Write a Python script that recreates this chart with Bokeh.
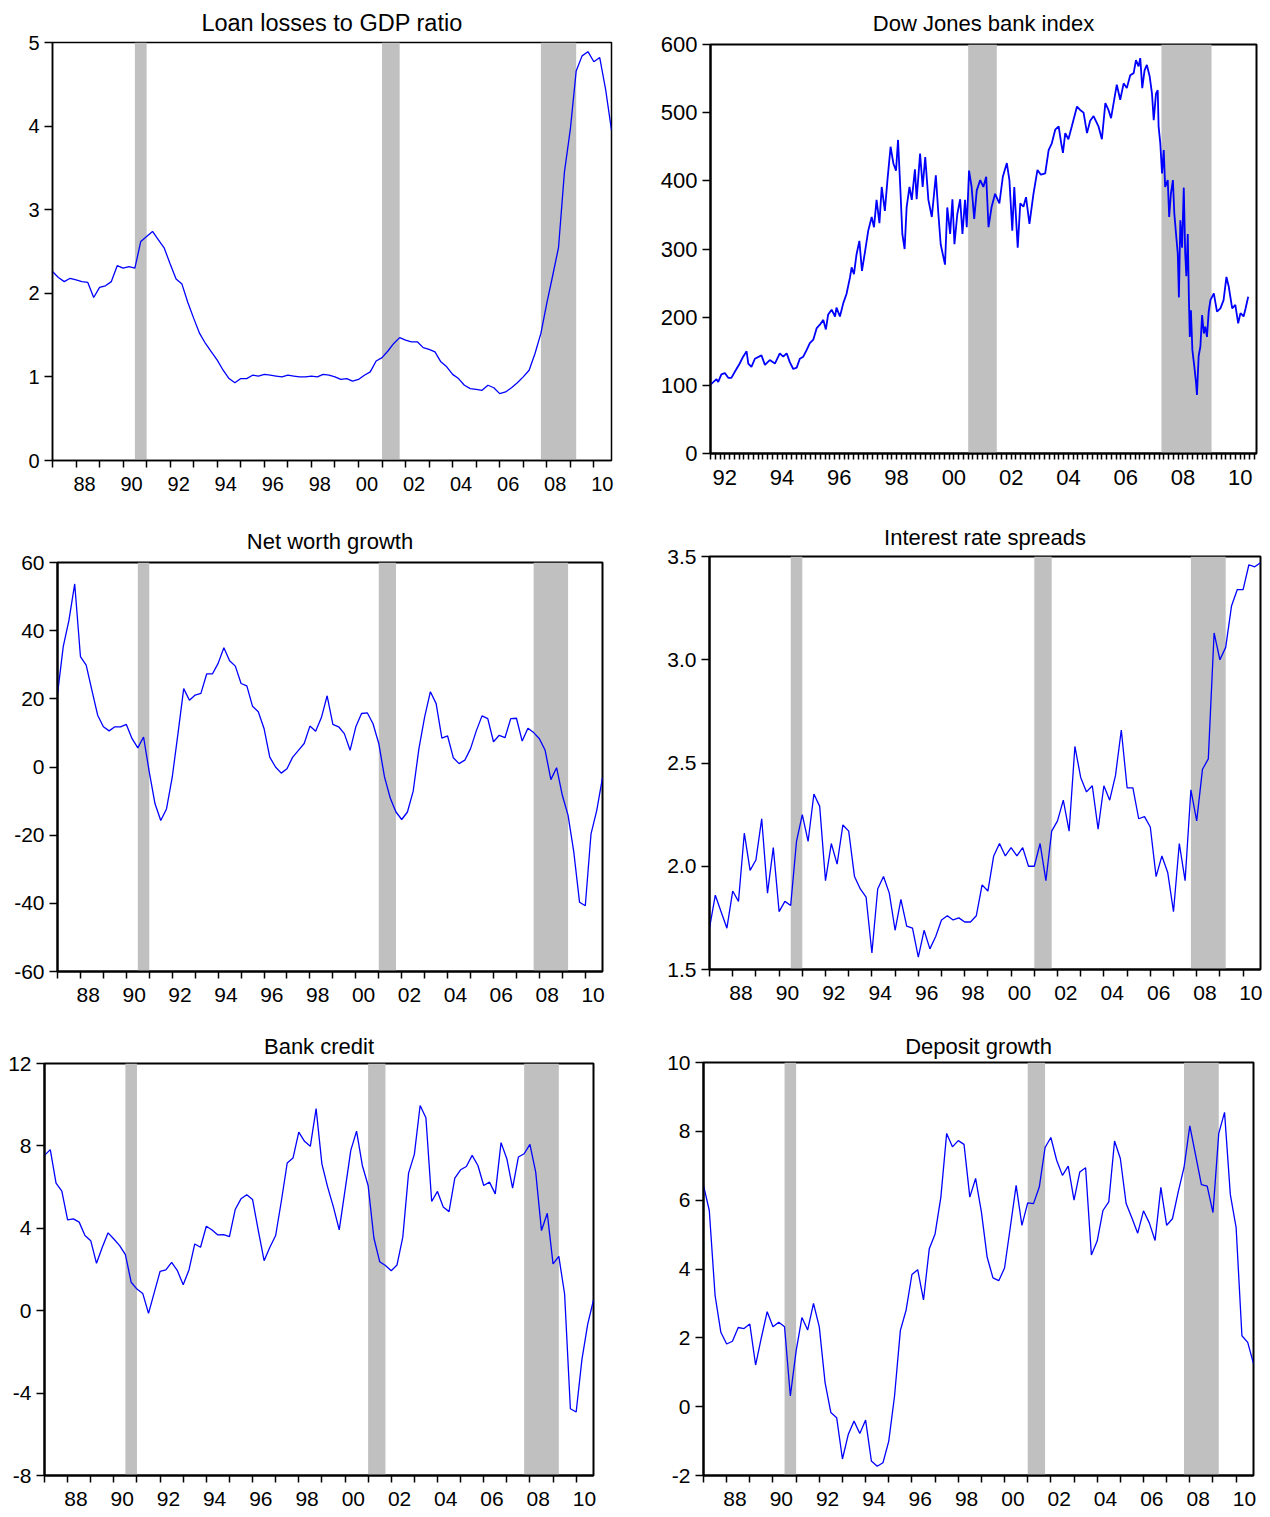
from bokeh.plotting import figure
from bokeh.layouts import column, row
from bokeh.models import Range1d, FixedTicker, CustomJSTickFormatter, BoxAnnotation
from bokeh.embed import file_html
from bokeh.resources import INLINE

# ---------------- data ----------------
start_year = 1987  # quarterly data 1987Q1 .. 2010Q4

loan_losses = [2.26, 2.19, 2.14, 2.18, 2.16, 2.14, 2.13, 1.95, 2.07, 2.09, 2.14, 2.33, 2.30, 2.32, 2.30, 2.62,
               2.68, 2.74, 2.64, 2.54, 2.35, 2.17, 2.11, 1.89, 1.70, 1.52, 1.40, 1.30, 1.20, 1.08, 0.98, 0.93,
               0.98, 0.98, 1.02, 1.01, 1.03, 1.02, 1.01, 1.00, 1.02, 1.01, 1.00, 1.00, 1.01, 1.00, 1.03, 1.02,
               1.00, 0.97, 0.98, 0.95, 0.97, 1.02, 1.06, 1.19, 1.23, 1.31, 1.40, 1.47, 1.44, 1.42, 1.42, 1.35,
               1.33, 1.30, 1.18, 1.12, 1.03, 0.98, 0.90, 0.86, 0.85, 0.84, 0.90, 0.87, 0.80, 0.82, 0.87, 0.93,
               1.00, 1.08, 1.28, 1.52, 1.88, 2.21, 2.55, 3.45, 3.96, 4.66, 4.84, 4.89, 4.77, 4.82, 4.44, 3.95]

net_worth = [21.4, 35.3, 43.1, 53.7, 32.4, 29.9, 22.5, 15.2, 11.8, 10.6, 11.8, 11.8, 12.5, 8.3, 5.6, 8.8,
             -1.5, -10.8, -15.7, -12.3, -3.0, 9.8, 23.0, 19.6, 21.1, 21.6, 27.3, 27.3, 30.4, 35.0, 31.2, 29.6,
             24.5, 23.8, 17.8, 16.2, 11.3, 2.9, 0.0, -1.8, -0.5, 2.9, 4.9, 6.9, 12.0, 10.5, 14.5, 20.9,
             12.5, 11.8, 9.8, 4.9, 11.8, 15.7, 15.9, 12.7, 6.9, -2.9, -9.1, -13.2, -15.4, -13.2, -7.1, 5.4,
             14.7, 22.1, 18.6, 8.5, 9.1, 2.7, 1.0, 2.0, 5.4, 10.6, 15.0, 14.2, 7.4, 9.3, 8.6, 14.2,
             14.3, 7.6, 11.4, 10.1, 8.3, 4.9, -3.7, -0.2, -8.3, -14.2, -25.0, -39.7, -40.7, -19.6, -12.7, -3.1]

rate_spreads = [1.70, 1.86, 1.78, 1.70, 1.88, 1.83, 2.16, 1.98, 2.03, 2.23, 1.87, 2.09, 1.78, 1.83, 1.81, 2.12,
                2.25, 2.12, 2.35, 2.29, 1.93, 2.11, 2.01, 2.20, 2.17, 1.95, 1.89, 1.85, 1.58, 1.89, 1.95, 1.87,
                1.69, 1.84, 1.71, 1.70, 1.56, 1.69, 1.60, 1.66, 1.74, 1.76, 1.74, 1.75, 1.73, 1.73, 1.76, 1.91,
                1.88, 2.05, 2.11, 2.05, 2.09, 2.05, 2.09, 2.00, 2.00, 2.11, 1.93, 2.17, 2.22, 2.32, 2.17, 2.58,
                2.43, 2.36, 2.39, 2.18, 2.39, 2.32, 2.44, 2.66, 2.38, 2.38, 2.23, 2.24, 2.19, 1.95, 2.05, 1.97,
                1.78, 2.11, 1.93, 2.37, 2.22, 2.47, 2.52, 3.13, 3.00, 3.06, 3.26, 3.34, 3.34, 3.46, 3.45, 3.47]

bank_credit = [7.54, 7.82, 6.19, 5.80, 4.41, 4.46, 4.30, 3.65, 3.40, 2.30, 3.08, 3.78, 3.48, 3.16, 2.72, 1.38,
               1.05, 0.84, -0.13, 0.89, 1.91, 1.98, 2.35, 1.94, 1.26, 1.98, 3.24, 3.08, 4.10, 3.92, 3.68, 3.69,
               3.60, 4.91, 5.43, 5.63, 5.40, 3.89, 2.43, 3.08, 3.65, 5.35, 7.17, 7.41, 8.67, 8.22, 7.98, 9.81,
               7.13, 6.00, 5.03, 3.92, 5.84, 7.78, 8.72, 7.05, 6.08, 3.53, 2.38, 2.19, 1.94, 2.22, 3.57, 6.68,
               7.59, 9.96, 9.37, 5.30, 5.79, 5.03, 4.81, 6.44, 6.84, 7.00, 7.54, 7.05, 6.08, 6.24, 5.67, 8.16,
               7.38, 5.95, 7.46, 7.62, 8.07, 6.73, 3.89, 4.73, 2.27, 2.64, 0.81, -4.76, -4.92, -2.36, -0.65, 0.52]

deposit_growth = [6.43, 5.70, 3.23, 2.16, 1.82, 1.90, 2.30, 2.27, 2.40, 1.21, 2.01, 2.76, 2.32, 2.45, 2.32, 0.31,
                  1.62, 2.59, 2.23, 3.00, 2.32, 0.70, -0.17, -0.32, -1.52, -0.81, -0.42, -0.78, -0.39, -1.58, -1.73, -1.63,
                  -1.00, 0.31, 2.21, 2.81, 3.84, 3.98, 3.10, 4.59, 5.02, 6.09, 7.94, 7.55, 7.73, 7.62, 6.09, 6.63,
                  5.66, 4.34, 3.74, 3.66, 4.03, 5.22, 6.43, 5.27, 5.92, 5.90, 6.38, 7.53, 7.82, 7.16, 6.72, 6.99,
                  6.00, 6.82, 6.94, 4.41, 4.81, 5.70, 5.95, 7.72, 7.21, 5.90, 5.48, 5.04, 5.69, 5.34, 4.83, 6.37,
                  5.27, 5.46, 6.24, 6.95, 8.16, 7.31, 6.45, 6.41, 5.64, 7.94, 8.55, 6.16, 5.20, 2.06, 1.87, 1.25]

# Dow Jones US bank index (dates as decimal years)
dj_date = [1992.00, 1992.21, 1992.27, 1992.38, 1992.50, 1992.62, 1992.73, 1992.85,
           1993.02, 1993.14, 1993.26, 1993.32, 1993.43, 1993.55, 1993.78, 1993.90,
           1994.07, 1994.25, 1994.42, 1994.54, 1994.66, 1994.77, 1994.89,
           1995.01, 1995.12, 1995.24, 1995.36, 1995.47, 1995.59, 1995.71, 1995.82, 1995.94,
           1996.03, 1996.11, 1996.23, 1996.35, 1996.40, 1996.52, 1996.64, 1996.75, 1996.87, 1996.93,
           1997.01, 1997.10, 1997.20, 1997.29, 1997.40, 1997.51, 1997.63, 1997.71, 1997.80, 1997.90, 1997.98,
           1998.09, 1998.18, 1998.29, 1998.39, 1998.48, 1998.55, 1998.64, 1998.70, 1998.78, 1998.85, 1998.95,
           1999.03, 1999.14, 1999.20, 1999.32, 1999.41, 1999.50, 1999.61, 1999.73, 1999.87, 1999.96,
           2000.04, 2000.19, 2000.27, 2000.37, 2000.45, 2000.52, 2000.62, 2000.72, 2000.80, 2000.89, 2000.95, 2001.03,
           2001.12, 2001.21, 2001.30, 2001.42, 2001.53, 2001.63, 2001.71, 2001.82, 2001.94,
           2002.09, 2002.21, 2002.35, 2002.44, 2002.54, 2002.61, 2002.73, 2002.82, 2002.93,
           2003.02, 2003.14, 2003.28, 2003.42, 2003.54, 2003.69, 2003.81, 2003.92,
           2004.04, 2004.16, 2004.25, 2004.31, 2004.39, 2004.50, 2004.62, 2004.80, 2004.91,
           2005.03, 2005.15, 2005.26, 2005.38, 2005.55, 2005.67, 2005.79, 2005.90, 2005.99,
           2006.10, 2006.19, 2006.31, 2006.43, 2006.54, 2006.66, 2006.78, 2006.86, 2006.95,
           2007.01, 2007.08, 2007.16, 2007.24, 2007.34, 2007.42, 2007.48, 2007.56, 2007.62, 2007.65,
           2007.71, 2007.77, 2007.83, 2007.88, 2007.97, 2008.02, 2008.08, 2008.15, 2008.20, 2008.26,
           2008.32, 2008.36, 2008.41, 2008.47, 2008.53, 2008.58, 2008.62, 2008.67, 2008.71, 2008.74,
           2008.78, 2008.83, 2008.90, 2008.96, 2008.99, 2009.05, 2009.11, 2009.17, 2009.23, 2009.28,
           2009.34, 2009.40, 2009.46, 2009.58, 2009.69, 2009.81, 2009.92, 2010.02, 2010.10, 2010.22,
           2010.33, 2010.43, 2010.51, 2010.62, 2010.69, 2010.78]
dj_index = [101, 109, 105, 116, 118, 111, 111, 120,
            132, 142, 150, 132, 127, 139, 144, 130,
            137, 132, 147, 142, 147, 134, 124,
            126, 139, 142, 152, 162, 167, 184, 189, 196,
            182, 204, 211, 201, 214, 201, 221, 234, 258, 273,
            263, 292, 312, 268, 297, 327, 347, 332, 372, 338, 391,
            356, 401, 450, 425, 415, 460, 380, 322, 300, 361, 391,
            372, 417, 373, 440, 391, 435, 372, 347, 408, 351,
            307, 277, 361, 322, 373, 307, 351, 373, 322, 372, 332, 415,
            391, 344, 386, 401, 391, 406, 332, 362, 381,
            367, 406, 426, 401, 327, 391, 302, 367, 362,
            376, 337, 381, 416, 409, 411, 445, 455,
            475, 480, 455, 441, 470, 461, 480, 509, 504,
            500, 470, 488, 495, 480, 461, 514, 504, 492,
            519, 541, 519, 543, 536, 555, 558, 577, 568,
            580, 536, 562, 570, 553, 528, 489, 528, 533, 480,
            455, 411, 445, 391, 401, 347, 381, 401, 352, 322,
            293, 229, 342, 302, 390, 293, 260, 322, 225, 171,
            210, 152, 127, 103, 86, 143, 157, 203, 176, 186,
            171, 208, 225, 235, 208, 213, 225, 259, 245, 213,
            218, 191, 206, 201, 213, 230]

# recession bands (decimal years)
recessions_quarterly = [(1990.5, 1991.0), (2001.0, 2001.75), (2007.75, 2009.25)]
recessions_dj = [(2001.0, 2002.0), (2007.75, 2009.5)]

titles = ["Loan losses to GDP ratio", "Dow Jones bank index", "Net worth growth",
          "Interest rate spreads", "Bank credit", "Deposit growth"]

y_ticks_loan = [0, 1, 2, 3, 4, 5]
y_ticks_dj = [0, 100, 200, 300, 400, 500, 600]
y_ticks_nw = [-60, -40, -20, 0, 20, 40, 60]
y_ticks_spread = [1.5, 2.0, 2.5, 3.0, 3.5]
y_ticks_credit = [-8, -4, 0, 4, 8, 12]
y_ticks_deposit = [-2, 0, 2, 4, 6, 8, 10]

quarter_dates = [start_year + k / 4 for k in range(len(loan_losses))]

# ---------------- styling ----------------
FONT = "Liberation Sans"
BLUE = "#0000ff"
SHADE = "#c0c0c0"


def make_panel(title, xs, ys, xr, yr, yticks, ydec, recs, label_years, label_off, minor,
               width, height, bl, br, bt, bb, title_size, tick_size, frame_w, line_w, title_standoff,
               tick_len=7, x_standoff=9):
    p = figure(width=width, height=height, x_range=Range1d(*xr), y_range=Range1d(*yr),
               output_backend="svg", toolbar_location=None,
               min_border_left=bl, min_border_right=br, min_border_top=bt, min_border_bottom=bb)
    p.title.text = title
    p.title.align = "center"
    p.title.text_font = FONT
    p.title.text_font_style = "normal"
    p.title.text_font_size = title_size
    p.title.text_color = "black"
    p.title.standoff = title_standoff

    for a, b in recs:
        p.add_layout(BoxAnnotation(left=a, right=b, fill_color=SHADE, fill_alpha=1.0,
                                   line_color=None, level="underlay"))
    p.line(xs, ys, line_color=BLUE, line_width=line_w)

    p.xgrid.visible = False
    p.ygrid.visible = False
    p.outline_line_color = "black"
    p.outline_line_width = frame_w
    p.outline_line_alpha = 1.0

    # labels sit just right of each even-year tick: invisible major ticks carry the labels,
    # visible minor ticks mark the period boundaries
    xa = p.xaxis[0]
    xa.ticker = FixedTicker(ticks=[y + label_off for y in label_years], minor_ticks=minor)
    xa.formatter = CustomJSTickFormatter(args=dict(off=label_off),
                                         code="return String(Math.round(tick - off) % 100).padStart(2, '0');")
    xa.major_tick_line_color = None
    xa.major_tick_out = tick_len
    xa.major_tick_in = 0
    xa.minor_tick_out = tick_len
    xa.minor_tick_in = 0
    xa.minor_tick_line_color = "black"
    xa.minor_tick_line_width = 1.5
    xa.axis_line_color = "black"
    xa.axis_line_width = frame_w
    xa.major_label_standoff = x_standoff
    xa.major_label_text_font = FONT
    xa.major_label_text_font_size = tick_size
    xa.major_label_text_color = "black"

    ya = p.yaxis[0]
    ya.ticker = FixedTicker(ticks=yticks)
    ya.formatter = CustomJSTickFormatter(args=dict(nd=ydec), code="return tick.toFixed(nd);")
    ya.major_tick_out = 8
    ya.major_tick_in = 0
    ya.minor_tick_line_color = None
    ya.major_tick_line_color = "black"
    ya.major_tick_line_width = 1.5
    ya.axis_line_color = "black"
    ya.axis_line_width = frame_w
    ya.major_label_standoff = 5
    ya.major_label_text_font = FONT
    ya.major_label_text_font_size = tick_size
    ya.major_label_text_color = "black"
    return p


q_label_years = list(range(1988, 2011, 2))
q_minor = list(range(1987, 2011))
dj_label_years = list(range(1992, 2011, 2))
dj_minor = [1992 + k / 6 for k in range(0, 19 * 6 + 1)]

p1 = make_panel(titles[0], quarter_dates, loan_losses, (1987, 2010.75), (0, 5), y_ticks_loan, 0,
                recessions_quarterly, q_label_years, 0.36, q_minor,
                635, 516, 52, 24, 42, 56, "23.5px", "20px", 1.5, 1.3, 14)
p2 = make_panel(titles[1], dj_date, dj_index, (1992, 2011.07), (0, 600), y_ticks_dj, 0,
                recessions_dj, dj_label_years, 0.5, dj_minor,
                627, 516, 75, 6, 44, 63, "22px", "22px", 2, 1.8, 17, tick_len=6, x_standoff=10)
p3 = make_panel(titles[2], quarter_dates, net_worth, (1987, 2010.75), (-60, 60), y_ticks_nw, 0,
                recessions_quarterly, q_label_years, 0.34, q_minor,
                635, 505, 57, 33, 46, 50, "22px", "21px", 2, 1.3, 17)
p4 = make_panel(titles[3], quarter_dates, rate_spreads, (1987, 2010.75), (1.5, 3.5), y_ticks_spread, 1,
                recessions_quarterly, q_label_years, 0.36, q_minor,
                627, 505, 74, 2, 40, 52, "22px", "21px", 2, 1.3, 13)
p5 = make_panel(titles[4], quarter_dates, bank_credit, (1987, 2010.75), (-8, 12), y_ticks_credit, 0,
                recessions_quarterly, q_label_years, 0.36, q_minor,
                635, 494, 44, 42, 42, 40, "22px", "21px", 2, 1.3, 9)
p6 = make_panel(titles[5], quarter_dates, deposit_growth, (1987, 2010.75), (-2, 10), y_ticks_deposit, 0,
                recessions_quarterly, q_label_years, 0.36, q_minor,
                627, 494, 68, 9, 41, 40, "22px", "21px", 2, 1.3, 8)

layout = column(row(column(p1), column(p2)), row(column(p3), column(p4)), row(column(p5), column(p6)))
open("out.html", "w").write(file_html(layout, INLINE))
